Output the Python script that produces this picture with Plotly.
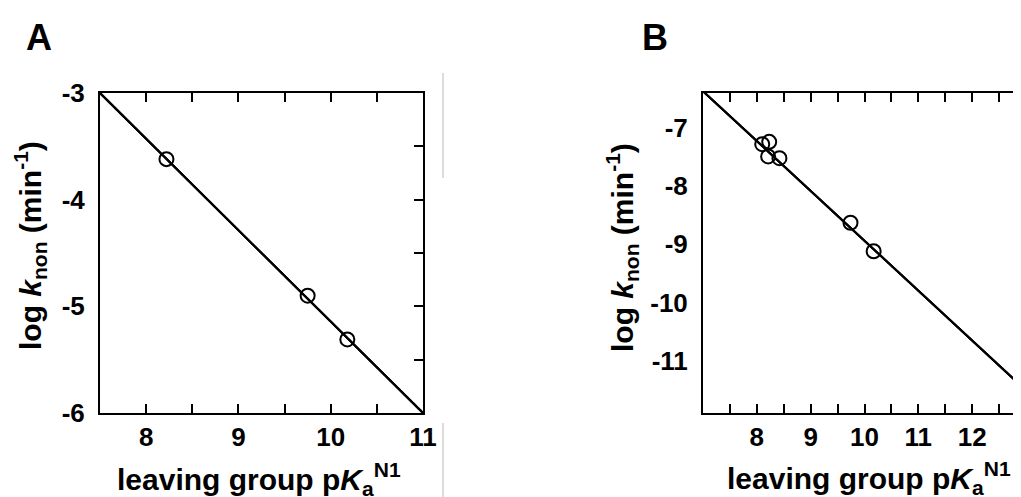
import plotly.graph_objects as go

# ---------------- data ----------------
# Panel A
a_pka = [8.22, 9.75, 10.18]
a_logk = [-3.62, -4.90, -5.31]
a_fit_x = [7.5, 11.0]
a_fit_y = [-3.0, -6.0]
a_xlabel_vals = [8, 9, 10, 11]
a_xtick_marks = [8, 8.5, 9, 9.5, 10, 10.5]
a_ylabel_vals = [-3, -4, -5, -6]
a_ytick_marks = [-5.5, -5, -4.5, -4, -3.5]

# Panel B
b_pka = [8.10, 8.23, 8.21, 8.42, 9.74, 10.17]
b_logk = [-7.28, -7.24, -7.49, -7.52, -8.63, -9.12]
b_fit_x = [7.0, 13.0]
b_fit_y = [-6.37, -11.51]
b_xlabel_vals = [8, 9, 10, 11, 12, 13]
b_xtick_marks = [7.5, 8, 8.5, 9, 9.5, 10, 10.5, 11, 11.5, 12, 12.5]
b_ylabel_vals = [-7, -8, -9, -10, -11]
b_ytick_marks = [-11.5, -11, -10.5, -10, -9.5, -9, -8.5, -8, -7.5, -7, -6.5]

W, H = 1021, 497
OFF = 8  # default page body margin
FONT = "Arial, Liberation Sans, Helvetica, sans-serif"

def px(x):
    return (x - OFF) / W

def py(y):
    return 1 - (y - OFF) / H

def bold(vals):
    return ["<b>%g</b>" % v for v in vals]

LINE = dict(color="black", width=2)
MARK = dict(symbol="circle-open", size=14, color="black", line=dict(width=2, color="black"))

fig = go.Figure()

# Panel A: fit line on the labelled axes, repeated on the tick-only x axes
for xa in ["x", "x3", "x5"]:
    fig.add_trace(go.Scatter(x=a_fit_x, y=a_fit_y, mode="lines", line=LINE,
                             xaxis=xa, yaxis="y", showlegend=False, hoverinfo="skip"))
fig.add_trace(go.Scatter(x=a_pka, y=a_logk, mode="markers", marker=MARK,
                         xaxis="x", yaxis="y3", showlegend=False))

# Panel B
for xa in ["x2", "x4", "x6"]:
    fig.add_trace(go.Scatter(x=b_fit_x, y=b_fit_y, mode="lines", line=LINE,
                             xaxis=xa, yaxis="y2", showlegend=False, hoverinfo="skip"))
fig.add_trace(go.Scatter(x=b_pka, y=b_logk, mode="markers", marker=MARK,
                         xaxis="x2", yaxis="y4", showlegend=False))

def tickfont():
    return dict(family=FONT, size=26, color="black")

ydom = [py(413), py(93)]
a_xrange = [7.5, 11.0]
a_yrange = [-6.0, -3.0]
b_xrange = [7.0, 13.0]
b_yrange = [-11.9, -6.4]

def x_labels(dom, rng, anchor, vals):
    return dict(domain=dom, range=rng, anchor=anchor, automargin=False, side="bottom",
                tickmode="array", tickvals=vals, ticktext=bold(vals), ticks="",
                showline=True, linecolor="black", linewidth=2,
                showgrid=False, zeroline=False, tickfont=tickfont())

def x_ticks(over, anchor, rng, side, marks):
    return dict(overlaying=over, anchor=anchor, range=rng, automargin=False, side=side,
                tickmode="array", tickvals=marks, showticklabels=False,
                ticks="inside", ticklen=9, tickwidth=2, tickcolor="black",
                showline=True, linecolor="black", linewidth=2,
                showgrid=False, zeroline=False)

def y_labels(rng, anchor, vals):
    return dict(domain=ydom, range=rng, anchor=anchor, automargin=False,
                tickmode="array", tickvals=vals, ticktext=bold(vals),
                showline=True, linecolor="black", linewidth=2, ticks="",
                showgrid=False, zeroline=False, tickfont=tickfont(),
                ticklabelstandoff=8)

def y_ticks(over, anchor, rng, marks):
    return dict(overlaying=over, anchor=anchor, range=rng, automargin=False, side="right",
                tickmode="array", tickvals=marks, showticklabels=False,
                ticks="inside", ticklen=9, tickwidth=2, tickcolor="black",
                showline=True, linecolor="black", linewidth=2,
                showgrid=False, zeroline=False)

fig.update_layout(
    template="none",
    width=W, height=H,
    margin=dict(l=0, r=0, t=0, b=0, autoexpand=False),
    paper_bgcolor="white", plot_bgcolor="white",
    showlegend=False,
    xaxis=x_labels([px(100), px(423)], a_xrange, "y", a_xlabel_vals),
    xaxis3=x_ticks("x", "y", a_xrange, "bottom", a_xtick_marks),
    xaxis5=x_ticks("x", "y", a_xrange, "top", a_xtick_marks),
    yaxis=y_labels(a_yrange, "x", a_ylabel_vals),
    yaxis3=y_ticks("y", "x", a_yrange, a_ytick_marks),
    xaxis2=x_labels([px(703), px(1026)], b_xrange, "y2", b_xlabel_vals),
    xaxis4=x_ticks("x2", "y2", b_xrange, "bottom", b_xtick_marks),
    xaxis6=x_ticks("x2", "y2", b_xrange, "top", b_xtick_marks),
    yaxis2=y_labels(b_yrange, "x2", b_ylabel_vals),
    yaxis4=y_ticks("y2", "x2", b_yrange, b_ytick_marks),
)

ann_font_title = dict(family=FONT, size=30, color="black")
ann_font_letter = dict(family=FONT, size=36, color="black")

annotations = [
    dict(text="<b>A</b>", x=px(39), y=py(37), font=ann_font_letter),
    dict(text="<b>B</b>", x=px(655), y=py(37), font=ann_font_letter),
    dict(text="<b>log <i>k</i><sub>non</sub> (min<sup>-1</sup>)</b>", x=px(30), y=py(246),
         textangle=-90, font=ann_font_title),
    dict(text="<b>log <i>k</i><sub>non</sub> (min<sup>-1</sup>)</b>", x=px(622), y=py(248),
         textangle=-90, font=ann_font_title),
    dict(text="<b>leaving group p<i>K</i><sub>a</sub><sup>N1</sup></b>", x=px(259), y=py(479),
         font=ann_font_title),
    dict(text="<b>leaving group p<i>K</i><sub>a</sub><sup>N1</sup></b>", x=px(869), y=py(478),
         font=ann_font_title),
]
for a in annotations:
    a.update(xref="paper", yref="paper", showarrow=False, xanchor="center", yanchor="middle")
fig.update_layout(annotations=annotations)

fig.update_layout(shapes=[
    dict(type="line", xref="paper", yref="paper", x0=px(443), x1=px(443),
         y0=py(73), y1=py(178), line=dict(color="#dcdcdc", width=2)),
    dict(type="line", xref="paper", yref="paper", x0=px(443), x1=px(443),
         y0=py(423), y1=py(497), line=dict(color="#dcdcdc", width=2)),
])

fig.write_html("out.html")
